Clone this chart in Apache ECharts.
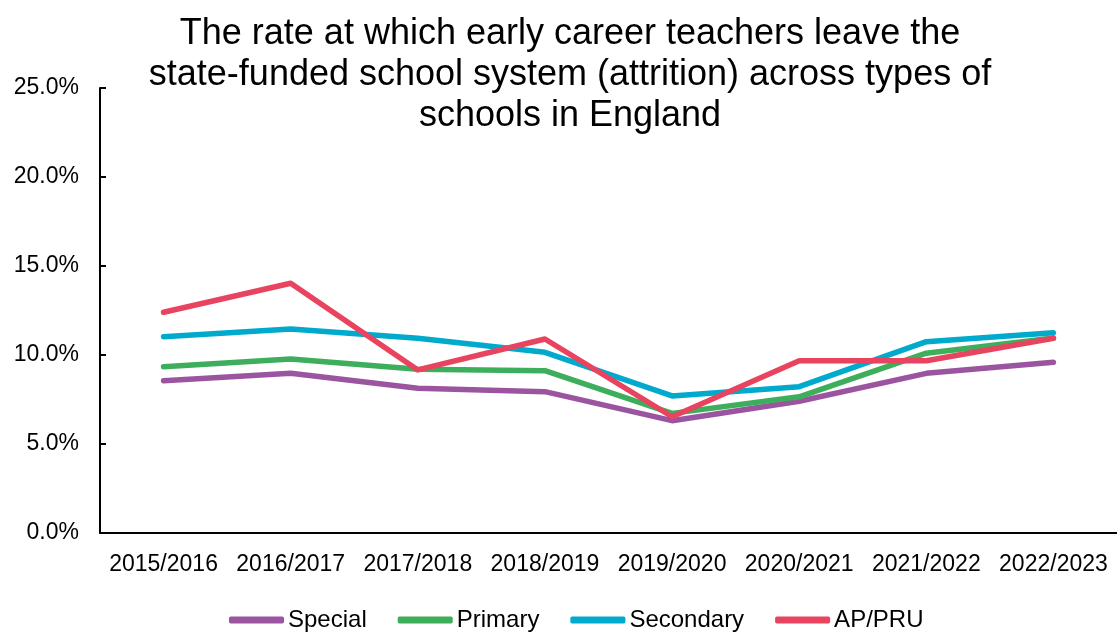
<!DOCTYPE html>
<html>
<head>
<meta charset="utf-8">
<style>
  html, body { margin: 0; padding: 0; background: #fff; }
  #chart { width: 1117px; height: 633px; }
</style>
<script src="https://cdn.jsdelivr.net/npm/echarts@6/dist/echarts.min.js"></script>
</head>
<body>
<div id="chart"></div>
<script>
// School years on the category axis
const years = ['2015/2016', '2016/2017', '2017/2018', '2018/2019', '2019/2020', '2020/2021', '2021/2022', '2022/2023'];

// Attrition rate (%) of early career teachers by school type
const special   = [8.56, 8.97, 8.13, 7.94, 6.31, 7.40, 8.97, 9.59];
const primary   = [9.34, 9.78, 9.20, 9.12, 6.72, 7.65, 10.10, 10.95];
const secondary = [11.03, 11.46, 10.94, 10.15, 7.70, 8.22, 10.75, 11.25];
const apPru     = [12.40, 14.03, 9.16, 10.90, 6.53, 9.68, 9.68, 10.94];

// Y axis range and step (percent)
const yMin = 0, yMax = 25, yStep = 5;

const titleText = 'The rate at which early career teachers leave the\nstate-funded school system (attrition) across types of\nschools in England';

const font = 'Liberation Sans, Arial, sans-serif';

function lineSeries(name, data, color) {
  return {
    name: name,
    type: 'line',
    data: data,
    symbol: 'none',
    smooth: false,
    lineStyle: { width: 5.5, color: color, cap: 'round', join: 'round' },
    itemStyle: { color: color },
    emphasis: { disabled: true }
  };
}

const chart = echarts.init(document.getElementById('chart'), null, { renderer: 'canvas' });
chart.setOption({
  animation: false,
  backgroundColor: '#ffffff',
  title: {
    text: titleText,
    left: 570,
    top: 14,
    padding: 0,
    textAlign: 'center',
    textStyle: { fontFamily: font, fontSize: 36, fontWeight: 'normal', color: '#000', lineHeight: 41 }
  },
  grid: { left: 100, right: 0, top: 88, bottom: 100, containLabel: false },
  legend: {
    data: ['Special', 'Primary', 'Secondary', 'AP/PRU'],
    left: 229,
    top: 608,
    icon: 'roundRect',
    itemWidth: 55,
    itemHeight: 7,
    itemGap: 31,
    padding: 0,
    textStyle: { fontFamily: font, fontSize: 24, color: '#000', padding: [0, 0, 0, -1] }
  },
  xAxis: {
    type: 'category',
    data: years,
    boundaryGap: true,
    axisLine: { show: true, lineStyle: { color: '#000', width: 2 } },
    axisTick: { show: false },
    axisLabel: { fontFamily: font, fontSize: 23, color: '#000', margin: 20, interval: 0 },
    splitLine: { show: false }
  },
  yAxis: {
    type: 'value',
    min: yMin,
    max: yMax,
    interval: yStep,
    axisLine: { show: true, lineStyle: { color: '#000', width: 2 } },
    axisTick: { show: true, inside: true, length: 6, lineStyle: { color: '#000', width: 2 } },
    axisLabel: {
      fontFamily: font, fontSize: 23, color: '#000', margin: 21,
      formatter: function (v) { return v.toFixed(1) + '%'; }
    },
    splitLine: { show: false }
  },
  series: [
    lineSeries('Special', special, '#9B55A0'),
    lineSeries('Primary', primary, '#3DAE5B'),
    lineSeries('Secondary', secondary, '#00AACC'),
    lineSeries('AP/PRU', apPru, '#E8435F')
  ]
});
</script>
</body>
</html>
